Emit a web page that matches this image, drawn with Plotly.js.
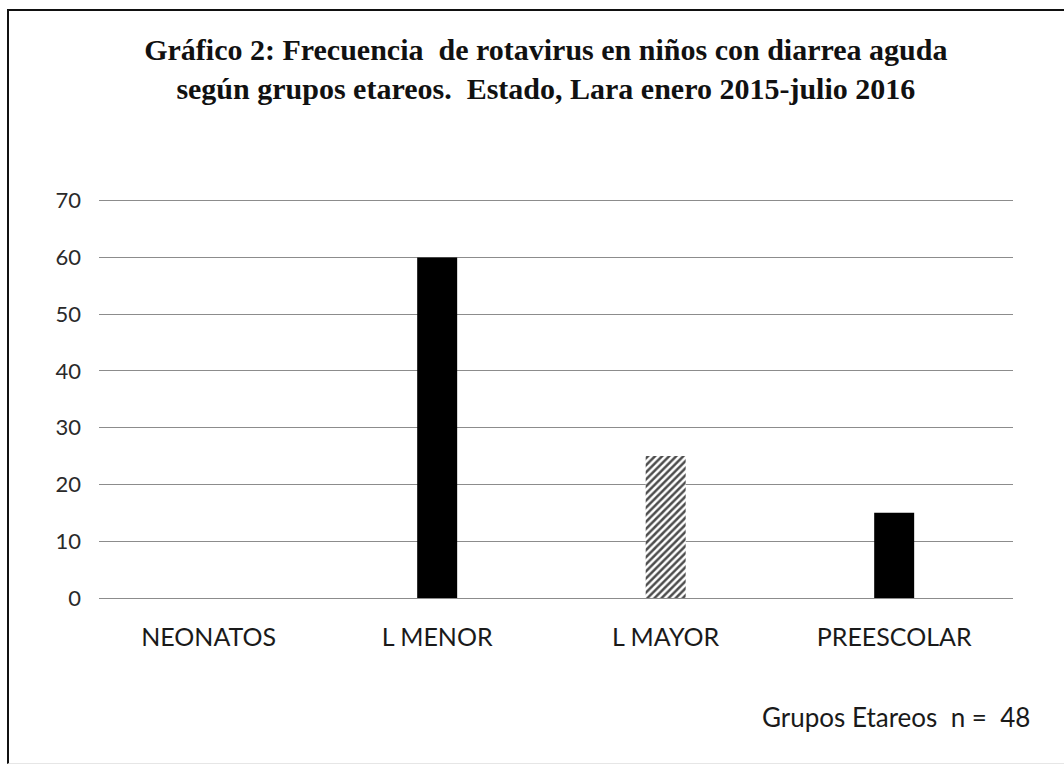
<!DOCTYPE html>
<html>
<head>
<meta charset="utf-8">
<script src="https://cdn.plot.ly/plotly-3.0.1.min.js"></script>
<style>
html,body{margin:0;padding:0;background:#fff;}
#wrap{position:relative;width:1064px;height:767px;overflow:hidden;}
#chart{position:absolute;left:0;top:0;width:1064px;height:767px;}
#frame{position:absolute;left:7px;top:9px;width:1070px;height:752px;border-left:2px solid #111;border-top:2px solid #111;border-bottom:1px solid #e6e6e6;pointer-events:none;}
</style>
</head>
<body>
<div id="wrap"><div id="chart"></div><div id="frame"></div></div>
<script>
var categories = ["NEONATOS", "L MENOR", "L MAYOR", "PREESCOLAR"];
var values = [0, 60, 25, 15];
var hatched = [false, false, true, false];
var yTicks = [0, 10, 20, 30, 40, 50, 60, 70];
var titleLines = ["Gráfico 2: Frecuencia  de rotavirus en niños con diarrea aguda",
                  "según grupos etareos.  Estado, Lara enero 2015-julio 2016"];
var axisNote = "Grupos Etareos  n =  48";

var solidTrace = {
  type: "bar",
  x: categories,
  y: values.map(function(v, i){ return hatched[i] ? null : v; }),
  marker: {color: "#000000", line: {width: 0}},
  hoverinfo: "none"
};
var hatchTrace = {
  type: "bar",
  x: categories,
  y: values.map(function(v, i){ return hatched[i] ? v : null; }),
  marker: {
    color: "#ffffff",
    line: {width: 0},
    pattern: {shape: "/", fgcolor: "#4d4d4d", bgcolor: "#ffffff", size: 5, solidity: 0.5, fillmode: "replace"}
  },
  hoverinfo: "none"
};

var layout = {
  width: 1064, height: 767,
  margin: {l: 99, r: 51, t: 199, b: 169},
  paper_bgcolor: "#ffffff",
  plot_bgcolor: "#ffffff",
  showlegend: false,
  barmode: "overlay",
  bargap: 0.825,
  title: {
    text: "<b>" + titleLines.join("<br>") + "</b>",
    font: {family: "Liberation Serif, Times New Roman, serif", size: 30, color: "#111"},
    x: 0.513, xanchor: "center",
    yref: "container", y: 0.922, yanchor: "middle"
  },
  xaxis: {
    type: "category",
    range: [-0.48, 3.52],
    showgrid: false, zeroline: false, showline: false,
    ticks: "",
    tickfont: {family: "Lato, Open Sans, sans-serif", size: 25, color: "#1a1a1a"},
    ticklabelstandoff: 22
  },
  yaxis: {
    range: [0, 70.3],
    tickvals: yTicks,
    ticktext: yTicks.map(String),
    showgrid: true, gridcolor: "#8c8c8c", gridwidth: 1,
    zeroline: true, zerolinecolor: "#8c8c8c", zerolinewidth: 1,
    showline: false, ticks: "",
    tickfont: {family: "Lato, Open Sans, sans-serif", size: 22, color: "#2a2a2a"},
    ticklabelstandoff: 17
  },
  annotations: [{
    text: axisNote,
    xref: "paper", yref: "paper",
    x: 1.021, y: -0.298,
    xanchor: "right", yanchor: "middle",
    showarrow: false,
    font: {family: "Lato, Open Sans, sans-serif", size: 26, color: "#1a1a1a"}
  }]
};

Plotly.newPlot("chart", [solidTrace, hatchTrace], layout, {staticPlot: true, displayModeBar: false});
</script>
</body>
</html>
